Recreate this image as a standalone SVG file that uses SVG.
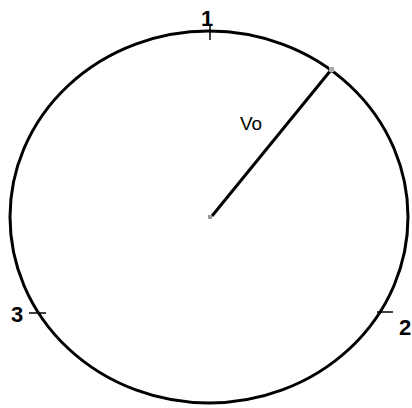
<svg xmlns="http://www.w3.org/2000/svg" width="412" height="408" viewBox="0 0 412 408">
<style>
.s{fill:none;stroke:#000;stroke-width:3}
.t{stroke:#000;stroke-width:1.5}
.lbl{font-family:"Liberation Sans",Arial,sans-serif;font-weight:bold;font-size:22px;fill:#000}
.v{font-family:"Liberation Sans",Arial,sans-serif;font-size:19px;fill:#000}
</style>
<rect width="412" height="408" fill="#fff"/>
<g id="circle">
<ellipse class="s" cx="209" cy="217" rx="199" ry="186"/>
</g>
<g id="connectors">
<line class="s" x1="212" y1="216" x2="331" y2="70"/>
</g>
<g id="ticks">
<line class="t" x1="210" y1="25" x2="210" y2="40"/>
<line class="t" x1="29" y1="313" x2="46" y2="313"/>
<line class="t" x1="377" y1="312" x2="393" y2="312"/>
</g>
<rect x="208" y="215" width="4" height="4" fill="#999"/>
<rect x="329" y="67" width="5" height="5" fill="#aaa"/>
<g id="labels">
<text class="lbl" x="207" y="26" text-anchor="middle">1</text>
<text class="lbl" x="11" y="322">3</text>
<text class="lbl" x="399" y="335">2</text>
<text class="v" x="240" y="130">Vo</text>
</g>
</svg>
